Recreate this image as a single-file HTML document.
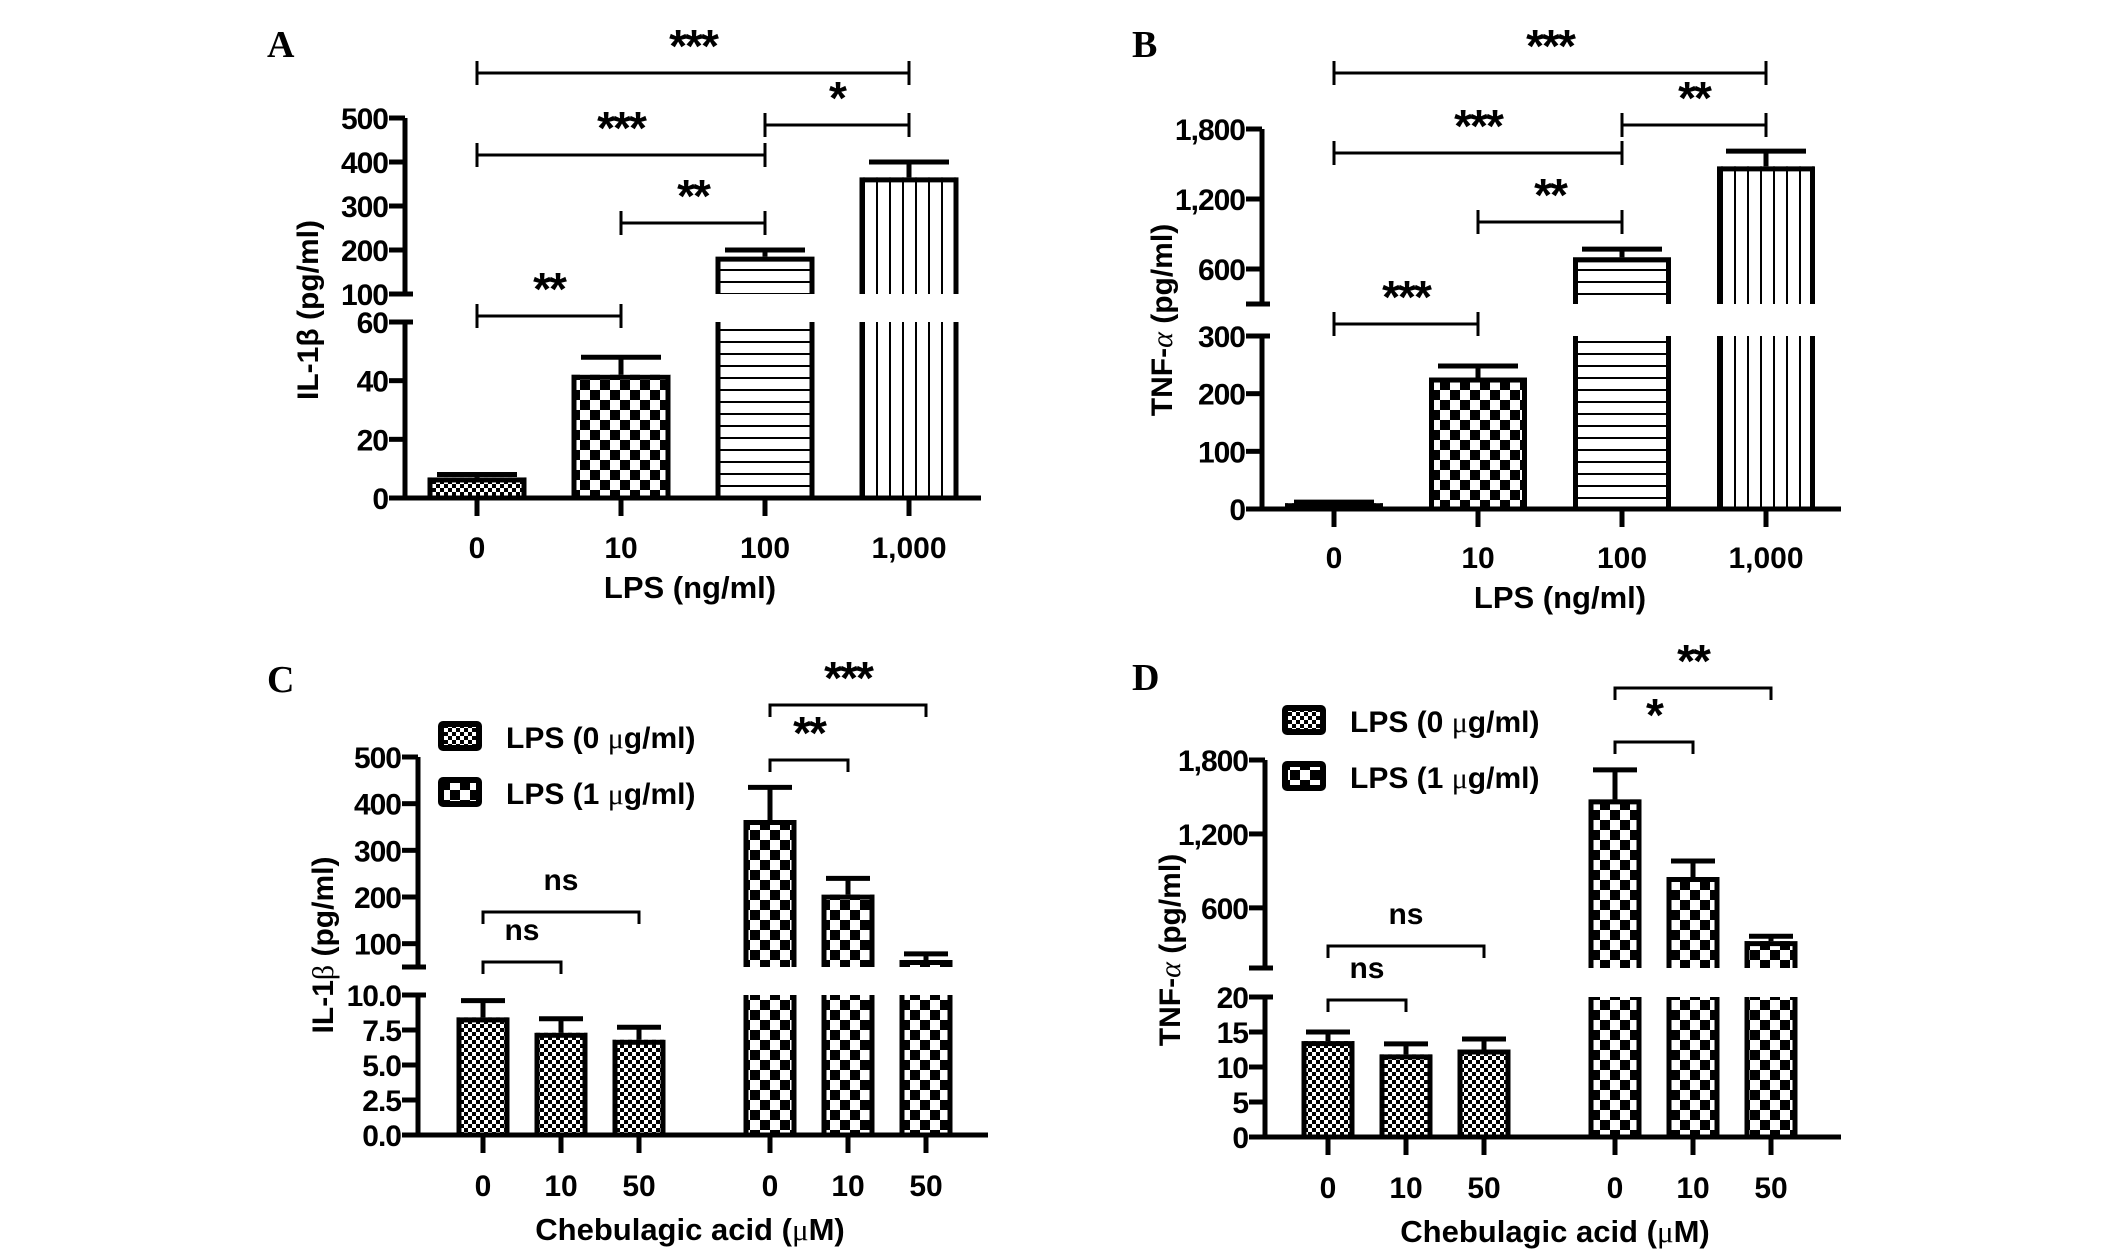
<!DOCTYPE html>
<html><head><meta charset="utf-8"><style>
html,body{margin:0;padding:0;background:#fff;}
svg{display:block;}
text{font-family:"Liberation Sans",Arial,sans-serif;font-weight:bold;fill:#000;}
.lt{font-family:"Liberation Serif","Times New Roman",serif;font-weight:bold;}
</style></head><body>
<svg id="fig" width="2126" height="1253" viewBox="0 0 2126 1253" xmlns="http://www.w3.org/2000/svg">
<defs>
<pattern id="pFine" width="8" height="8" patternUnits="userSpaceOnUse"><rect width="8" height="8" fill="#fff"/><rect width="4" height="4" fill="#000"/><rect x="4" y="4" width="4" height="4" fill="#000"/></pattern>
<pattern id="pCoarse" width="20" height="20" patternUnits="userSpaceOnUse"><rect width="20" height="20" fill="#fff"/><rect width="10" height="10" fill="#000"/><rect x="10" y="10" width="10" height="10" fill="#000"/></pattern>
<pattern id="pH" width="12" height="12" patternUnits="userSpaceOnUse"><rect width="12" height="12" fill="#fff"/><rect y="5" width="12" height="2" fill="#000"/></pattern>
<pattern id="pV" width="13" height="13" patternUnits="userSpaceOnUse"><rect width="13" height="13" fill="#fff"/><rect x="5" width="2" height="13" fill="#000"/></pattern>
</defs>
</svg>
<script>
// ---- data ----
const aCategories = ["0","10","100","1,000"];
const aValues = [7, 42, 185, 365];
const aErrors = [8, 48, 200, 400];
const aLowerTicks = [0,20,40,60];
const aUpperTicks = [100,200,300,400,500];

const bCategories = ["0","10","100","1,000"];
const bValues = [10, 228, 700, 1480];
const bErrors = [12, 248, 770, 1610];
const bLowerTicks = [0,100,200,300];
const bUpperTicks = [600,1200,1800];

const cCategories = ["0","10","50","0","10","50"];
const cValues = [8.4, 7.3, 6.8, 365, 205, 65];
const cErrors = [9.6, 8.3, 7.7, 435, 240, 78];
const cLowerTicks = [0,2.5,5,7.5,10];
const cLowerLabels = ["0.0","2.5","5.0","7.5","10.0"];
const cUpperTicks = [100,200,300,400,500];

const dCategories = ["0","10","50","0","10","50"];
const dValues = [13.7, 11.8, 12.5, 1480, 850, 330];
const dErrors = [15, 13.3, 14, 1720, 980, 370];
const dLowerTicks = [0,5,10,15,20];
const dUpperTicks = [600,1200,1800];

function fmt(v){return v>=1000? v.toLocaleString('en-US'): String(v);}

const NS="http://www.w3.org/2000/svg";
const svg=document.getElementById('fig');
function el(tag,attrs,parent){const e=document.createElementNS(NS,tag);for(const k in attrs)e.setAttribute(k,attrs[k]);(parent||svg).appendChild(e);return e;}
function line(g,x1,y1,x2,y2,w){return el('line',{x1:x1,y1:y1,x2:x2,y2:y2,stroke:'#000','stroke-width':w},g);}

function panel(cfg){
  const g=el('g',{});
  
  
  const ly=v=>cfg.base+(v-cfg.lo[0])*(cfg.loTop-cfg.base)/(cfg.lo[1]-cfg.lo[0]);
  const uy=v=>cfg.upBot+(v-cfg.up[0])*(cfg.upTop-cfg.upBot)/(cfg.up[1]-cfg.up[0]);
  const X=i=>cfg.centers[0]+i*cfg.step+(i>=cfg.gapAfter?cfg.gap:0);
  const L=el('text',{x:cfg.letter[0],y:cfg.letter[1],'font-size':38,class:'lt'},g);L.textContent=cfg.letterText;
  
  
  cfg.values.forEach((v,i)=>{
    const cx=X(i),w=cfg.barW,x=cx-w/2,f='url(#'+cfg.fills[i]+')';
    const bg=el('g',{},g);
    
    
    const lowTopV=Math.min(v,cfg.lo[1]);
    const yT=ly(lowTopV);
    el('rect',{x:x,y:yT,width:w,height:cfg.base-yT,fill:f},bg);
    if(v<=cfg.lo[1]){
      el('rect',{x:x+2.5,y:yT+2.5,width:w-5,height:cfg.base-yT-2.5,fill:'none',stroke:'#000','stroke-width':5},bg);
    } else {
      el('path',{d:`M${x+2.5},${cfg.loTop} V${cfg.base} M${x+w-2.5},${cfg.loTop} V${cfg.base}`,stroke:'#000','stroke-width':5,fill:'none'},bg);
      const yu=uy(v);
      el('rect',{x:x,y:yu,width:w,height:cfg.upBot-yu,fill:f},bg);
      el('path',{d:`M${x+2.5},${cfg.upBot} V${yu+2.5} H${x+w-2.5} V${cfg.upBot}`,stroke:'#000','stroke-width':5,fill:'none'},bg);
    }
    const e=cfg.errors[i];
    const ye=e<=cfg.lo[1]?ly(e):uy(e), yv=v<=cfg.lo[1]?ly(v):uy(v);
    const eb=el('g',{},g);
    
    
    line(eb,cx,yv,cx,ye,5);
    line(eb,cx-cfg.cap,ye,cx+cfg.cap,ye,5);
    line(g,cx,cfg.base,cx,cfg.base+18,5);
    const t=el('text',{x:cx,y:cfg.xlabY,'font-size':30,'text-anchor':'middle'},g);t.textContent=cfg.cats[i];
    
    
  });
  const ax=cfg.axisX;
  line(g,cfg.xStart,cfg.base,cfg.xEnd,cfg.base,5);
  line(g,ax,cfg.base+2,ax,cfg.loTop,5);
  line(g,ax-16,cfg.loTop,ax+8,cfg.loTop,5);
  line(g,ax,cfg.upBot,ax,cfg.upTop,5);
  line(g,ax-16,cfg.upBot,ax+8,cfg.upBot,5);
  line(g,ax-16,cfg.upTop,ax,cfg.upTop,5);
  function ytick(y,lab){line(g,ax-16,y,ax,y,5);const t=el('text',{x:ax-17,y:y+11,'font-size':30,'text-anchor':'end','letter-spacing':'-1'},g);t.textContent=lab;
    
    }
  cfg.loTicks.forEach((v,i)=>ytick(ly(v),cfg.loLabels?cfg.loLabels[i]:fmt(v)));
  cfg.upTicks.forEach(v=>ytick(uy(v),fmt(v)));
  const yt=el('text',{x:0,y:0,'font-size':30,'text-anchor':'middle',transform:`translate(${cfg.yTitle[0]},${cfg.yTitle[1]}) rotate(-90)`},g);
  yt.innerHTML=cfg.yTitleText;
  
  
  const xt=el('text',{x:cfg.xTitle[0],y:cfg.xTitle[1],'font-size':31,'text-anchor':'middle'},g);xt.innerHTML=cfg.xTitleText;
  
  
  cfg.brackets.forEach(b=>{
    const bg=el('g',{},g);
    
    
    const x1=X(b[0]),x2=X(b[1]),y=b[2];
    line(bg,x1,y,x2,y,3);
    if(cfg.capStyle==='T'){line(bg,x1,y-12,x1,y+12,3);line(bg,x2,y-12,x2,y+12,3);}
    else{line(bg,x1,y-1.5,x1,y+12,3);line(bg,x2,y-1.5,x2,y+12,3);}
    const isNs=b[3]==='ns';
    const t=el('text',{x:(x1+x2)/2,y:isNs?y-22:y-11,'font-size':isNs?30:46,'text-anchor':'middle','letter-spacing':isNs?0:-2},bg);t.textContent=b[3];
  });
  if(cfg.legend){
    cfg.legend.forEach((Lg,i)=>{
      const lg=el('g',{},g);
      
      
      const y=cfg.legendY+i*cfg.legendStep;
      el('rect',{x:cfg.legendX+3,y:y+3,width:38,height:24,fill:'url(#'+Lg[0]+')',stroke:'#000','stroke-width':6,rx:2},lg);
      const t=el('text',{x:cfg.legendX+68,y:y+27,'font-size':30},lg);t.innerHTML=Lg[1];
    });
  }
}

const mu='<tspan font-family="Liberation Serif, serif" font-weight="normal">μ</tspan>';
panel({name:'panel-a-il1b-lps',letterText:'A',letter:[267,57],values:aValues,errors:aErrors,cats:aCategories,
  base:498,loTop:322,lo:[0,60],upBot:294,upTop:118,up:[100,500],loTicks:aLowerTicks,upTicks:aUpperTicks,
  axisX:405,xStart:393,xEnd:981,centers:[477],step:144,gapAfter:99,gap:0,barW:99,cap:40,
  fills:['pFine','pCoarse','pH','pV'],xlabY:558,xTitle:[690,598],xTitleText:'LPS (ng/ml)',
  yTitle:[318,310],yTitleText:'IL-1β  (pg/ml)',capStyle:'T',
  brackets:[[0,3,73,'***'],[2,3,125,'*'],[0,2,155,'***'],[1,2,223,'**'],[0,1,316,'**']]});
panel({name:'panel-b-tnfa-lps',letterText:'B',letter:[1132,57],values:bValues,errors:bErrors,cats:bCategories,
  base:509,loTop:336,lo:[0,300],upBot:304,upTop:129,up:[300,1800],loTicks:bLowerTicks,upTicks:bUpperTicks,
  axisX:1262,xStart:1249,xEnd:1841,centers:[1334],step:144,gapAfter:99,gap:0,barW:98,cap:40,
  fills:['pFine','pCoarse','pH','pV'],xlabY:568,xTitle:[1560,608],xTitleText:'LPS (ng/ml)',
  yTitle:[1172,320],yTitleText:'TNF-'+'<tspan font-family="Liberation Serif, serif" font-weight="normal" font-style="italic">α</tspan>'+'  (pg/ml)',capStyle:'T',
  brackets:[[0,3,73,'***'],[2,3,125,'**'],[0,2,153,'***'],[1,2,222,'**'],[0,1,324,'***']]});
panel({name:'panel-c-il1b-chebulagic',letterText:'C',letter:[267,692],values:cValues,errors:cErrors,cats:cCategories,
  base:1135,loTop:995,lo:[0,10],upBot:967,upTop:757,up:[50,500],loTicks:cLowerTicks,loLabels:cLowerLabels,upTicks:cUpperTicks,
  axisX:418,xStart:404,xEnd:988,centers:[483],step:78,gapAfter:3,gap:53,barW:53,cap:22,
  fills:['pFine','pFine','pFine','pCoarse','pCoarse','pCoarse'],xlabY:1196,xTitle:[690,1240],xTitleText:'Chebulagic acid ('+mu+'M)',
  yTitle:[333,945],yTitleText:'IL-1'+'<tspan font-family="Liberation Serif, serif" font-weight="normal">β</tspan>'+'  (pg/ml)',capStyle:'U',
  brackets:[[3,5,705,'***'],[3,4,760,'**'],[0,2,912,'ns'],[0,1,962,'ns']],
  legend:[['pFine','LPS (0 '+mu+'g/ml)'],['pCoarse','LPS (1 '+mu+'g/ml)']],legendX:438,legendY:721,legendStep:56});
panel({name:'panel-d-tnfa-chebulagic',letterText:'D',letter:[1132,690],values:dValues,errors:dErrors,cats:dCategories,
  base:1137,loTop:997,lo:[0,20],upBot:968,upTop:760,up:[112,1800],loTicks:dLowerTicks,upTicks:dUpperTicks,
  axisX:1265,xStart:1252,xEnd:1841,centers:[1328],step:78,gapAfter:3,gap:53,barW:53,cap:22,
  fills:['pFine','pFine','pFine','pCoarse','pCoarse','pCoarse'],xlabY:1198,xTitle:[1555,1242],xTitleText:'Chebulagic acid ('+mu+'M)',
  yTitle:[1180,950],yTitleText:'TNF-'+'<tspan font-family="Liberation Serif, serif" font-weight="normal" font-style="italic">α</tspan>'+'  (pg/ml)',capStyle:'U',
  brackets:[[3,5,688,'**'],[3,4,742,'*'],[0,2,946,'ns'],[0,1,1000,'ns']],
  legend:[['pFine','LPS (0 '+mu+'g/ml)'],['pCoarse','LPS (1 '+mu+'g/ml)']],legendX:1282,legendY:705,legendStep:56});
</script>
</body></html>
